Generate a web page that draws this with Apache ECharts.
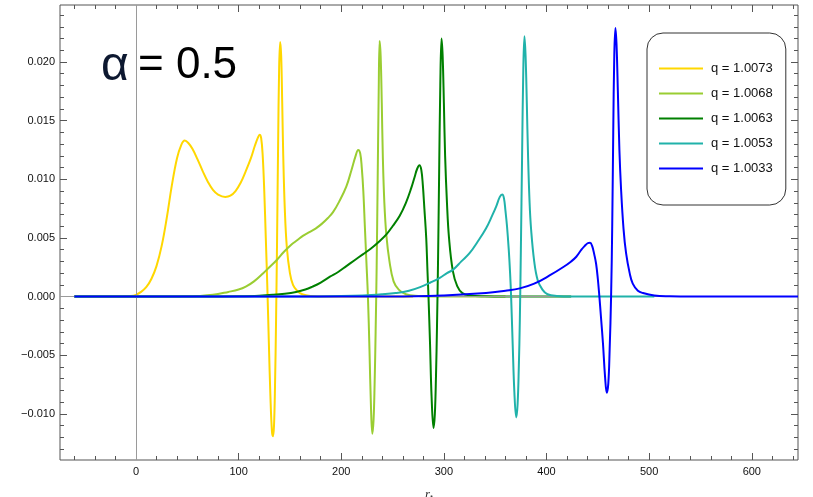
<!DOCTYPE html>
<html>
<head>
<meta charset="utf-8">
<script src="https://cdn.jsdelivr.net/npm/echarts@6/dist/echarts.min.js"></script>
<style>html,body{margin:0;padding:0;background:#fff}#c{width:813px;height:497px}</style>
</head>
<body>
<div id="c"></div>
<script>
// ---- data ----
const seriesNames = ['q = 1.0073', 'q = 1.0068', 'q = 1.0063', 'q = 1.0053', 'q = 1.0033'];
const seriesColors = ['#FFD700', '#9ACD32', '#008000', '#20B2AA', '#0000FF'];

const q10073 = [[-60,0],[-30,0],[-15,0.00001],[-5,0.00005],[0,0.00015],[5,0.0004],[10,0.0008],[15,0.0015],[20,0.0026],[25,0.0043],[30,0.0067],[35,0.0095],[40,0.0118],[44,0.0129],[47.5,0.0133],[51,0.0131],[55,0.0126],[60,0.0117],[65,0.0107],[70,0.0098],[75,0.0091],[80,0.0087],[87,0.0085],[92,0.0086],[97,0.0090],[102,0.0097],[107,0.0107],[112,0.0118],[116,0.0129],[119,0.0136],[120.5,0.0138],[122,0.0135],[123.5,0.0120],[125,0.0090],[126.5,0.0050],[128,0.0008],[129.5,-0.0040],[131,-0.0085],[132.5,-0.0115],[133.5,-0.0119],[134.5,-0.0110],[135.5,-0.0075],[136.5,-0.0020],[137.5,0.0050],[138.5,0.0130],[139.5,0.0195],[140.5,0.0217],[141.5,0.0205],[142.5,0.0165],[143.5,0.0120],[145,0.0075],[147,0.0042],[150,0.0020],[153,0.0010],[157,0.0005],[162,0.0002],[170,0.00005],[185,0],[270,0]];

const q10068 = [[-60,0],[20,0],[45,0.00002],[60,0.00005],[75,0.00015],[90,0.0004],[100,0.0006],[107,0.00085],[115,0.0013],[124,0.0020],[130,0.0025],[137,0.0031],[144,0.0038],[151,0.0044],[157,0.0048],[163,0.0052],[169,0.0055],[175,0.0058],[181,0.0062],[187,0.0067],[192,0.0072],[198,0.0081],[205,0.0094],[210,0.0108],[214,0.0120],[216.5,0.0125],[218.5,0.0122],[220,0.0110],[221.5,0.0090],[223,0.0060],[224.5,0.0030],[226,0.0000],[227.5,-0.0045],[229,-0.0095],[230.3,-0.0117],[231.5,-0.0105],[232.5,-0.0075],[233.5,-0.0030],[234.5,0.0025],[235.5,0.0100],[236.5,0.0175],[237.4,0.0218],[238.4,0.0205],[239.5,0.0165],[240.5,0.0120],[242,0.0080],[244,0.0052],[247,0.0030],[251,0.0013],[256,0.0006],[263,0.0002],[275,0.00005],[290,0],[360,0]];

const q10063 = [[-60,0],[60,0],[80,0.00001],[100,0.00003],[120,0.00008],[133,0.00015],[145,0.00025],[156,0.0004],[165,0.0006],[172,0.00085],[180,0.0012],[189,0.0017],[197,0.0021],[205,0.0026],[213,0.0031],[221,0.0036],[229,0.0041],[237,0.0047],[244,0.0053],[250,0.0060],[257,0.0069],[263,0.0080],[268,0.0092],[271.5,0.0102],[274,0.0109],[276.2,0.0112],[278,0.0108],[279.5,0.0095],[281,0.0075],[282.8,0.0050],[284,0.0022],[285,0],[286.5,-0.0040],[288,-0.0085],[289.9,-0.0112],[291.2,-0.0100],[292.3,-0.0068],[293.3,-0.0025],[294.3,0.0030],[295.3,0.0100],[296.5,0.0180],[297.7,0.0220],[298.8,0.0205],[300,0.0165],[301.2,0.0120],[303,0.0080],[305,0.0050],[308.7,0.0022],[313,0.0009],[318,0.0003],[325,0.0001],[340,0.00002],[360,0],[424,0]];

const q10053 = [[-60,0],[150,0],[200,0.00005],[221,0.0001],[240,0.0002],[253,0.0003],[266,0.0005],[278,0.00085],[287,0.0012],[296,0.0016],[303,0.0020],[309,0.0023],[317,0.0030],[325,0.0037],[333,0.0047],[341,0.0058],[347,0.0069],[351,0.0077],[354.5,0.0085],[356.8,0.0087],[358.5,0.0084],[360,0.0073],[361.5,0.0060],[363.2,0.0040],[364.5,0.0020],[365.5,0],[367,-0.0040],[368.7,-0.0082],[370.5,-0.0103],[371.8,-0.0092],[373,-0.0060],[374,-0.0020],[375,0.0040],[376.2,0.0120],[377.4,0.0195],[378.5,0.0222],[379.6,0.0205],[380.8,0.0165],[382,0.0120],[383.5,0.0080],[385,0.0057],[388,0.0030],[391.4,0.0014],[396,0.0006],[401,0.0002],[410,0.00005],[425,0],[505,0]];

const q10033 = [[-60,0],[250,0],[300,0.0001],[341,0.0003],[360,0.0005],[374,0.0007],[388,0.0011],[403,0.0018],[416,0.0025],[424,0.0030],[429,0.0034],[434,0.0040],[437,0.0043],[440,0.00455],[442.4,0.0046],[444.5,0.0043],[446.5,0.0036],[448.3,0.0028],[450,0.0015],[451.5,0],[453,-0.0017],[455,-0.0040],[457,-0.0068],[458.7,-0.0082],[460.2,-0.0074],[461.5,-0.0045],[462.9,0],[464,0.0060],[465,0.0140],[466,0.0205],[467.1,0.0229],[468.2,0.0215],[469.5,0.0175],[471,0.0125],[472.6,0.0092],[475,0.0058],[477.5,0.0037],[481,0.0020],[484,0.0011],[489,0.0005],[494,0.0003],[505,0.0001],[520,0.00003],[540,0],[645,0]];

const xMajorTicks = [0, 100, 200, 300, 400, 500, 600];
const xMinorTicks = [-60,-40,-20,20,40,60,80,120,140,160,180,220,240,260,280,320,340,360,380,420,440,460,480,520,540,560,580,620,640];
const yMajorTicks = [-0.010, -0.005, 0.000, 0.005, 0.010, 0.015, 0.020];
const yMinorTicks = [-0.013,-0.012,-0.011,-0.009,-0.008,-0.007,-0.006,-0.004,-0.003,-0.002,-0.001,0.001,0.002,0.003,0.004,0.006,0.007,0.008,0.009,0.011,0.012,0.013,0.014,0.016,0.017,0.018,0.019,0.021,0.022,0.023,0.024];

const allData = [q10073, q10068, q10063, q10053, q10033];

const X_MIN = -74, X_MAX = 645, Y_MIN = -0.01393, Y_MAX = 0.02486;
const frameColor = '#555';
const labelFont = {fontFamily: 'Liberation Sans', fontSize: 11, color: '#111'};

function xAxisDef(pos, ticks, len, labels) {
  return {
    type: 'value', position: pos, min: X_MIN, max: X_MAX, gridIndex: 0,
    axisLine: {show: false, onZero: false}, splitLine: {show: false},
    axisTick: {show: true, inside: true, length: len, customValues: ticks, lineStyle: {color: frameColor, width: 1}},
    axisLabel: labels ? Object.assign({show: true, customValues: ticks, margin: 6}, labelFont) : {show: false}
  };
}
function fmtY(v) {
  const s = Math.abs(v).toFixed(3);
  return v < -1e-9 ? '\u2212' + s : s;
}
function yAxisDef(pos, ticks, len, labels) {
  return {
    type: 'value', position: pos, min: Y_MIN, max: Y_MAX, gridIndex: 0,
    axisLine: {show: false, onZero: false}, splitLine: {show: false},
    axisTick: {show: true, inside: true, length: len, customValues: ticks, lineStyle: {color: frameColor, width: 1}},
    axisLabel: labels ? Object.assign({show: true, customValues: ticks, margin: 5, formatter: fmtY}, labelFont) : {show: false}
  };
}

const xAxes = [
  xAxisDef('bottom', xMajorTicks, 7, true),
  xAxisDef('bottom', xMinorTicks, 4, false),
  xAxisDef('top', xMajorTicks, 7, false),
  xAxisDef('top', xMinorTicks, 4, false)
];
xAxes[0].name = '{r|r}{s|*}';
xAxes[0].nameLocation = 'middle';
xAxes[0].nameGap = 28;
xAxes[0].nameTextStyle = {rich: {r: {fontFamily: 'Liberation Serif', fontStyle: 'italic', fontSize: 13, color: '#333'}, s: {fontFamily: 'Liberation Sans', fontSize: 8, color: '#333', verticalAlign: 'bottom', padding: [6,0,0,0]}}};

const yAxes = [
  yAxisDef('left', yMajorTicks, 7, true),
  yAxisDef('left', yMinorTicks, 4, false),
  yAxisDef('right', yMajorTicks, 7, false),
  yAxisDef('right', yMinorTicks, 4, false)
];

const series = [{
  type: 'line', data: [], xAxisIndex: 0, yAxisIndex: 0, silent: true, z: 1,
  markLine: {
    silent: true, symbol: 'none', label: {show: false}, animation: false,
    lineStyle: {color: '#9a9a9a', width: 1, type: 'solid'},
    data: [{xAxis: 0}, {yAxis: 0}]
  }
}];
allData.forEach((d, i) => {
  series.push({
    name: seriesNames[i], type: 'line', data: d, xAxisIndex: 0, yAxisIndex: 0,
    symbol: 'none', smooth: 0.4, z: 2 + i,
    lineStyle: {color: seriesColors[i], width: 2},
    itemStyle: {color: seriesColors[i]},
    animation: false
  });
});

const chart = echarts.init(document.getElementById('c'), null, {renderer: 'canvas'});
chart.setOption({
  backgroundColor: '#fff',
  animation: false,
  grid: {left: 60, right: 15, top: 5, bottom: 37, show: true, borderColor: frameColor, borderWidth: 1, backgroundColor: 'transparent', containLabel: false, outerBoundsMode: 'none'},
  xAxis: xAxes,
  yAxis: yAxes,
  legend: {
    data: seriesNames, orient: 'vertical', left: 647, top: 33,
    padding: [29, 13, 30, 11], itemGap: 12, itemWidth: 44, itemHeight: 13,
    borderColor: '#333', borderWidth: 1, borderRadius: 16, backgroundColor: '#fff',
    itemStyle: {opacity: 0},
    lineStyle: {width: 2},
    textStyle: {fontFamily: 'Liberation Sans', fontSize: 13, color: '#111', padding: [0, 0, 0, 3]},
    selectedMode: false
  },
  graphic: [
    {type: 'text', x: 101, y: 67, z: 100, style: {text: 'α', fontFamily: 'Liberation Sans', fontSize: 48, fill: '#0d1830', verticalAlign: 'middle', align: 'left'}},
    {type: 'text', x: 138, y: 66, z: 100, style: {text: '= 0.5', fontFamily: 'Liberation Sans', fontSize: 44, fill: '#000', verticalAlign: 'middle', align: 'left'}}
  ],
  series: series
});
</script>
</body>
</html>
